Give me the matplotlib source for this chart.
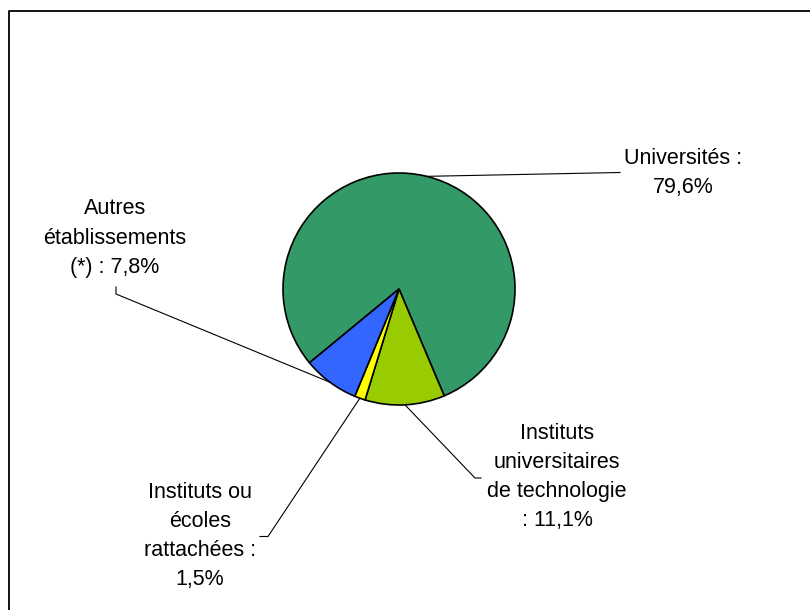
import matplotlib
matplotlib.use('Agg')
import numpy as np
import matplotlib.pyplot as plt

# Pie data, clockwise order as in the original chart
labels = ['Universités :\n79,6%',
          'Instituts\nuniversitaires\nde technologie\n: 11,1%',
          'Instituts ou\nécoles\nrattachées :\n1,5%',
          'Autres\nétablissements\n(*) : 7,8%']
values = [79.6, 11.1, 1.5, 7.8]
colors = ['#339966', '#99CC00', '#FFFF00', '#3366FF']

# Label placement in pixel space (x, y measured from the bottom)
label_pos = [(683, 437), (557, 133), (200, 74), (115, 372)]
# elbow points of the leader lines, from text side towards the pie
elbows = [[(620, 437.5)],
          [(481, 132), (475, 132)],
          [(260, 73.5), (268, 73.5)],
          [(116, 323), (116, 316)]]

CENTER = (399, 321)
RADIUS = 116

fig = plt.figure(figsize=(8.1, 6.1), dpi=100)
ax = fig.add_axes([0, 0, 1, 1])

wedges, _ = ax.pie(values, colors=colors, startangle=-140.5, counterclock=False,
                   center=CENTER, radius=RADIUS,
                   wedgeprops=dict(edgecolor='black', linewidth=1.2))

# pie() resets the limits, so set the pixel space afterwards
ax.set_xlim(0, 810)
ax.set_ylim(0, 610)
ax.set_aspect('equal')
ax.axis('off')

for w, lab, (tx, ty), pts in zip(wedges, labels, label_pos, elbows):
    mid = np.deg2rad((w.theta1 + w.theta2) / 2)
    ex = CENTER[0] + RADIUS * np.cos(mid)
    ey = CENTER[1] + RADIUS * np.sin(mid)
    xs = [p[0] for p in pts] + [ex]
    ys = [p[1] for p in pts] + [ey]
    ax.plot(xs, ys, color='black', linewidth=0.8, zorder=3)
    ax.text(tx, ty, lab, ha='center', va='center', fontsize=15.5,
            family='Liberation Sans', linespacing=1.5)

# chart frame (only top and left edges fall inside the picture)
ax.plot([8.5, 8.5, 830], [-20, 599, 599], color='black', linewidth=1.3,
        clip_on=False)

plt.savefig('out.png', dpi=100)
plt.close()
